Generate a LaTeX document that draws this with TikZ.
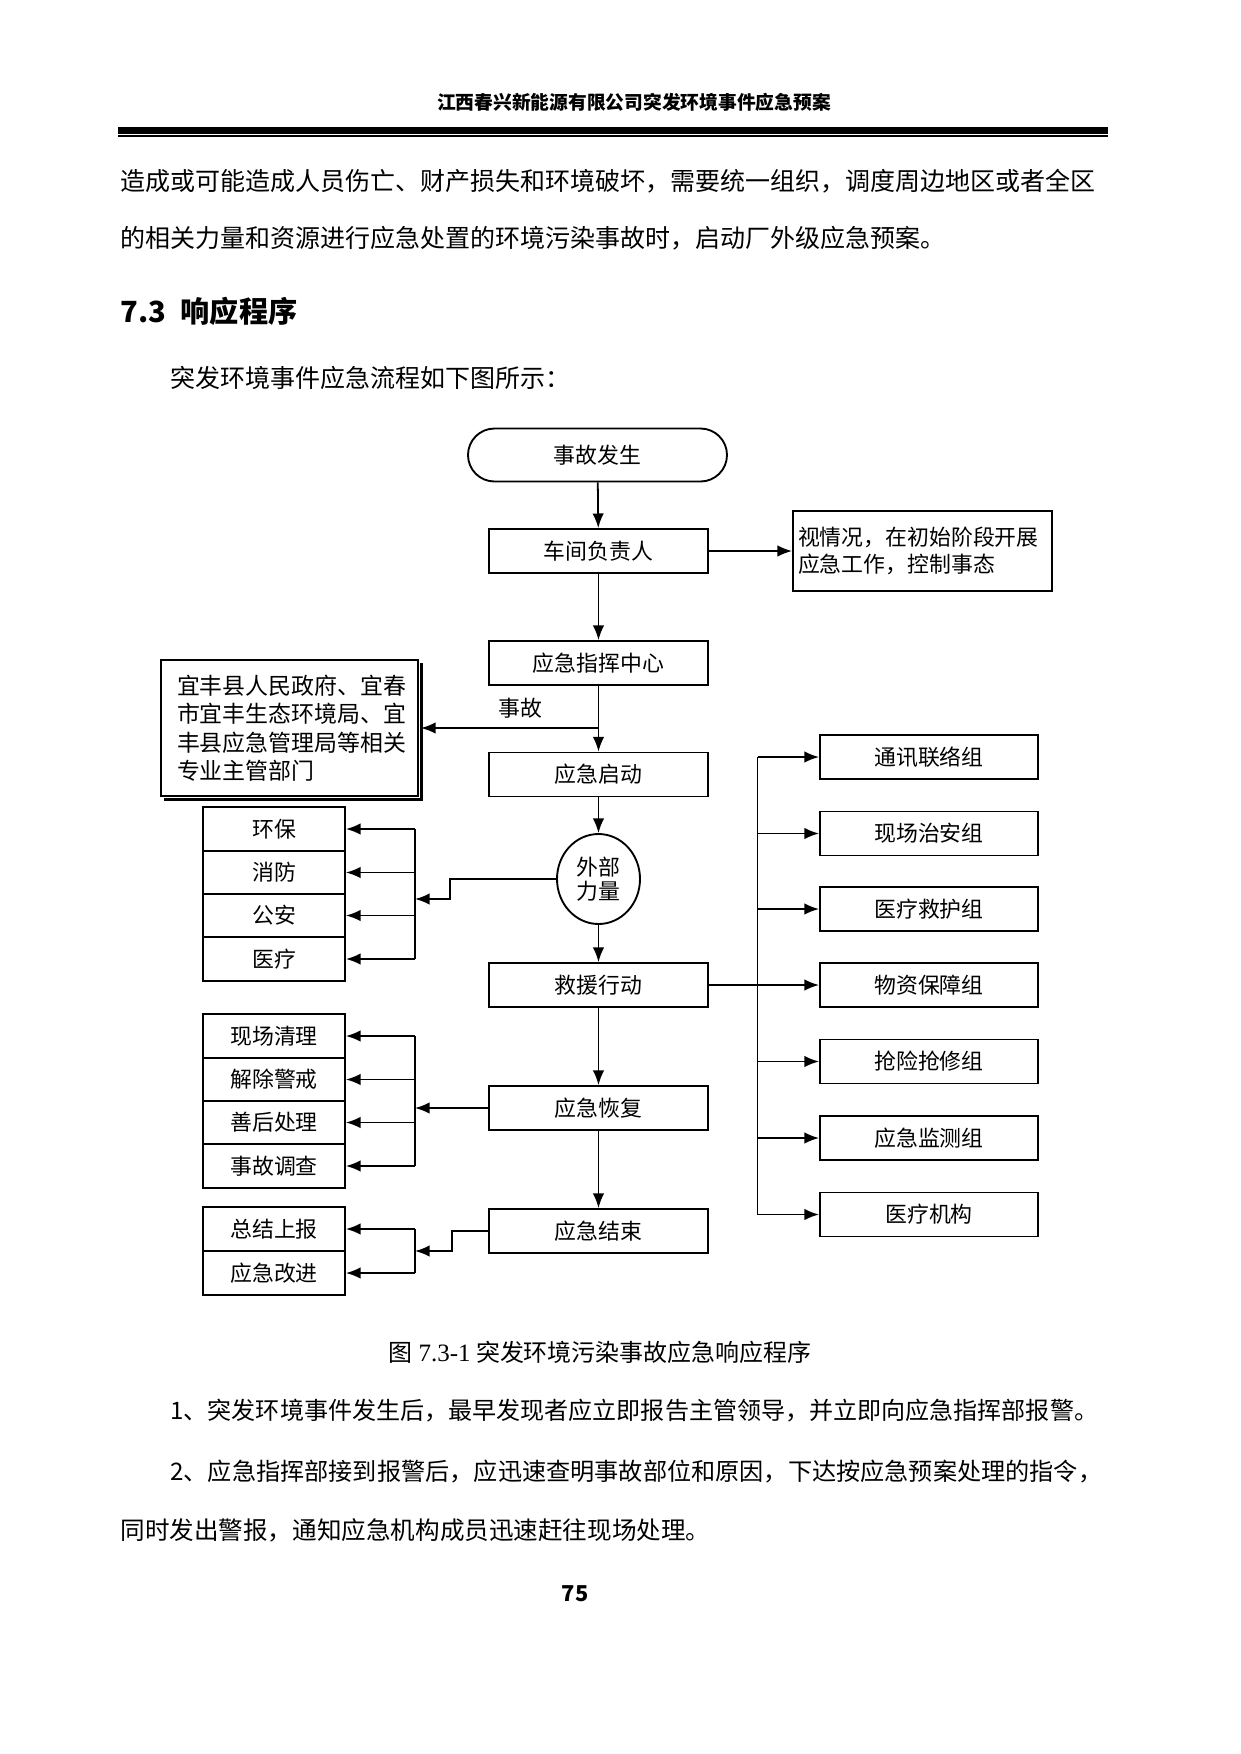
\documentclass[tikz,border=0pt]{standalone}
\usepackage{fontspec}
\setmainfont{Noto Sans CJK SC}
\newfontfamily\serifl{Liberation Serif}
\usetikzlibrary{arrows.meta,shapes.misc,shapes.geometric,calc}
\def\pxu{0.48pt}
\newcommand\fsz[2]{\fontsize{#1}{#2}\selectfont}
\begin{document}
\begin{tikzpicture}[x=0.48pt,y=-0.48pt,
  ln/.style={line width=0.85pt},
  arr/.style={line width=0.85pt,-{Latex[length=7pt,width=5.5pt]}},
  box/.style={draw,line width=0.9pt,minimum width=219*\pxu,minimum height=44*\pxu,inner sep=0pt,font=\fsz{10.5pt}{13pt}},
  lbox/.style={draw,line width=0.9pt,minimum width=142*\pxu,minimum height=43.5*\pxu,inner sep=0pt,font=\fsz{10.5pt}{13pt}},
  rbox/.style={draw,line width=0.9pt,minimum width=218*\pxu,minimum height=44*\pxu,inner sep=0pt,font=\fsz{10.5pt}{13pt}},
  txt/.style={anchor=west,inner sep=0pt}]
\fill[white] (0,0) rectangle (1241,1754);
\useasboundingbox (0,0) rectangle (1241,1754);

% header
\node[font=\fsz{9pt}{11pt}\bfseries] (hd) at (634,102) {江西春兴新能源有限公司突发环境事件应急预案};
\coordinate (rl) at (118,130.5);
\coordinate (rr) at (1108,130.5);
\draw[line width=7*\pxu] (rl) -- (rr);
\draw[line width=1.2*\pxu] ($(rl)+(0,5.5)$) -- ($(rr)+(0,5.5)$);

% body text
\node[txt,font=\fsz{12pt}{14pt}] (p1) at (120,181) {造成或可能造成人员伤亡、财产损失和环境破坏，需要统一组织，调度周边地区或者全区};
\node[txt,font=\fsz{12pt}{14pt}] (p2) at (120,238) {的相关力量和资源进行应急处置的环境污染事故时，启动厂外级应急预案。};
\node[txt,font=\fsz{14pt}{16pt}\bfseries] (h73) at (120,311) {7.3\hspace{0.5em}响应程序};
\node[txt,font=\fsz{12pt}{14pt}] (intro) at (170,378) {突发环境事件应急流程如下图所示：};

% flow chart
\node[draw,line width=0.9pt,rounded rectangle,minimum width=259*\pxu,minimum height=53*\pxu,inner sep=0pt,font=\fsz{10.5pt}{13pt}] (st) at (597.5,455) {事故发生};
\node[box] (cj) at (598.5,551) {车间负责人};
\node[draw,line width=0.9pt,minimum width=259*\pxu,minimum height=80*\pxu,inner xsep=5*\pxu,inner ysep=0pt,text width=249*\pxu,align=left,font=\fsz{10.5pt}{13pt}] (sq) at (922.5,551) {视情况，在初始阶段开展\\应急工作，控制事态};
\node[box] (zh) at (598.5,663) {应急指挥中心};
\node[draw,line width=0.9pt,minimum width=257*\pxu,minimum height=136*\pxu,inner xsep=16*\pxu,inner ysep=0pt,text width=225*\pxu,align=left,font=\fsz{11pt}{13.7pt}] (yf) at (289.5,728) {宜丰县人民政府、宜春\\市宜丰生态环境局、宜\\丰县应急管理局等相关\\专业主管部门};
\draw[line width=1.3pt] ($(yf.north east)+(2.5,4)$) -- ($(yf.south east)+(2.5,2.5)$) -- ($(yf.south west)+(4,2.5)$);
\node[box] (qd) at (598.5,774.5) {应急启动};
\node[draw,line width=0.9pt,ellipse,minimum width=83*\pxu,minimum height=90*\pxu,inner sep=0pt,align=center,font=\fsz{10.5pt}{11.5pt}] (ext) at (598.5,879) {外部\\力量};
\node[box] (jy) at (598.5,985) {救援行动};
\node[box] (hf) at (598.5,1108) {应急恢复};
\node[box] (js) at (598.5,1231) {应急结束};

\node[font=\fsz{10.5pt}{13pt},inner sep=0pt] (lbl) at (520,708) {事故};

% left group 1
\node[lbox] (a1) at (274,829) {环保};
\node[lbox] (a2) at (274,872.5) {消防};
\node[lbox] (a3) at (274,915.5) {公安};
\node[lbox] (a4) at (274,959) {医疗};
% left group 2
\node[lbox] (b1) at (274,1036) {现场清理};
\node[lbox] (b2) at (274,1079.5) {解除警戒};
\node[lbox] (b3) at (274,1122.5) {善后处理};
\node[lbox] (b4) at (274,1166) {事故调查};
% left group 3
\node[lbox] (c1) at (274,1229) {总结上报};
\node[lbox] (c2) at (274,1273) {应急改进};
% right group
\node[rbox] (r1) at (929,757) {通讯联络组};
\node[rbox] (r2) at (929,833.5) {现场治安组};
\node[rbox] (r3) at (929,909) {医疗救护组};
\node[rbox] (r4) at (929,985) {物资保障组};
\node[rbox] (r5) at (929,1061.5) {抢险抢修组};
\node[rbox] (r6) at (929,1138) {应急监测组};
\node[rbox] (r7) at (929,1214.5) {医疗机构};

% main flow
\draw[arr] (st) -- (cj);
\draw[arr] (cj) -- (zh);
\draw[arr] (cj.east) -- (sq.west);
\draw[arr] (zh) -- (qd);
\draw[arr] (zh.south |- yf.east) -- ($(yf.east)+(2,0)$);
\draw[arr] (qd) -- (ext);
\draw[arr] (ext) -- (jy);
\draw[arr] (jy) -- (hf);
\draw[arr] (hf) -- (js);

% bus 1
\coordinate (bus1) at (415,899);
\coordinate (k1) at (450,899);
\draw[ln] (a1.east -| bus1) -- (a4.east -| bus1);
\foreach \n in {a1,a2,a3,a4} \draw[arr] (\n.east -| bus1) -- (\n.east);
\draw[arr] (ext.west) -| (k1) -- (bus1);

% bus 2
\draw[ln] (b1.east -| bus1) -- (b4.east -| bus1);
\foreach \n in {b1,b2,b3,b4} \draw[arr] (\n.east -| bus1) -- (\n.east);
\draw[arr] (hf.west) -- (hf.west -| bus1);

% bus 3
\coordinate (k3) at (452,1251);
\draw[ln] (c1.east -| bus1) -- (c2.east -| bus1);
\foreach \n in {c1,c2} \draw[arr] (\n.east -| bus1) -- (\n.east);
\draw[arr] (js.west) -| (k3) -- (k3 -| bus1);

% right bus
\coordinate (rb) at (757.5,757);
\draw[ln] (r1.west -| rb) -- (r7.west -| rb);
\foreach \n in {r1,r2,r3,r5,r6,r7} \draw[arr] (\n.west -| rb) -- (\n.west);
\draw[arr] (jy.east) -- (r4.west);

% caption and text
\node[anchor=west,font=\fsz{11.5pt}{13pt},inner sep=0pt] (cap) at (388,1352) {图{\serifl\fsz{12pt}{13pt} 7.3-1} 突发环境污染事故应急响应程序};
\node[txt,font=\fsz{11.55pt}{14pt}] (n1) at (170,1411) {1、突发环境事件发生后，最早发现者应立即报告主管领导，并立即向应急指挥部报警。};
\node[txt,font=\fsz{11.6pt}{14pt}] (n2) at (170,1472) {2、应急指挥部接到报警后，应迅速查明事故部位和原因，下达按应急预案处理的指令，};
\node[txt,font=\fsz{11.8pt}{14pt}] (n3) at (120,1530) {同时发出警报，通知应急机构成员迅速赶往现场处理。};
\node[font=\fsz{10.5pt}{12pt}\bfseries,inner sep=0pt] (pg) at (575,1594) {75};
\end{tikzpicture}
\end{document}
